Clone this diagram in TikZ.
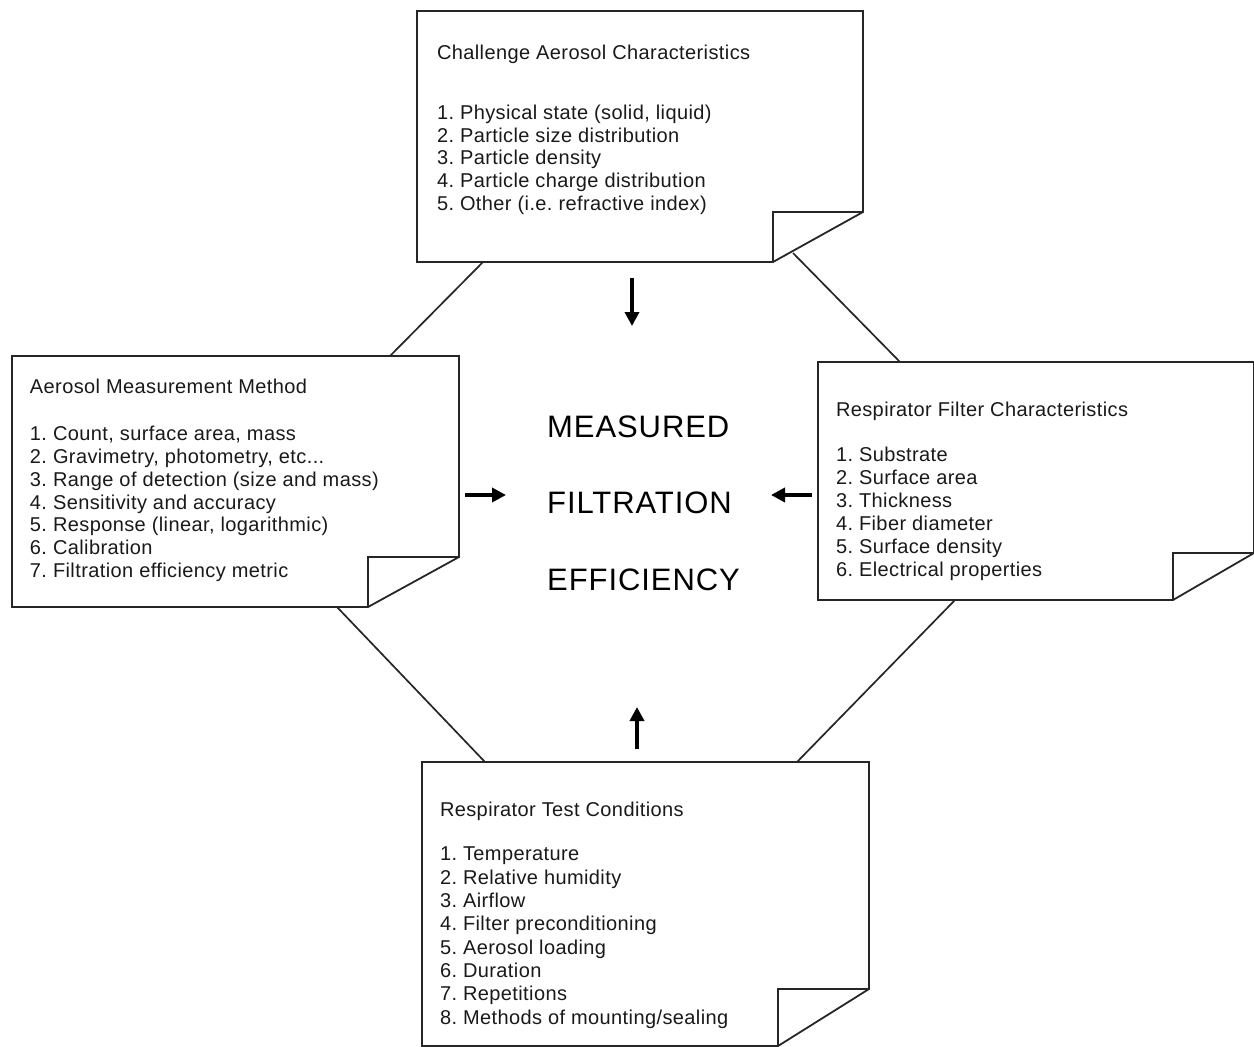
\documentclass[tikz,border=0pt]{standalone}
\usepackage{fontspec}
\setmainfont{Liberation Sans}
\newfontfamily\bodyfam[LetterSpace=2]{Liberation Sans}
\newfontfamily\bigfam[LetterSpace=3]{Liberation Sans}
\usetikzlibrary{calc,arrows.meta}
\newcommand\dogear[3]{%
  \draw[boxline] (#1.north east) -- ($(#1.south east)+(0,-#3)$) coordinate (#1f1)
     -- ($(#1.south east)+(-#2,0)$) coordinate (#1f2)
     -- (#1.south west) -- (#1.north west) -- cycle;
  \draw[boxline] (#1f2) -- (#1f2 |- #1f1) -- (#1f1);
}
\begin{document}
\frenchspacing
\begin{tikzpicture}[x=1pt,y=-1pt,
  boxline/.style={draw=black!85, line width=1.8pt, line join=miter},
  hexline/.style={draw=black!85, line width=1.7pt},
  arr/.style={draw=black, line width=3.5pt, -{Triangle[width=14pt,length=14pt]}},
  paper/.style={inner sep=0pt, outer sep=0pt},
  body/.style={inner sep=0pt, outer sep=0pt, anchor=base west, align=left, text=black!90,
    font=\bodyfam\fontsize{20}{22.9}\selectfont\frenchspacing},
  bodyb/.style={body, font=\bodyfam\fontsize{20}{23.3}\selectfont\frenchspacing},
  big/.style={inner sep=0pt, anchor=base west, align=left, text=black,
    font=\bigfam\fontsize{31}{76.5}\selectfont}]
\useasboundingbox (0,0) rectangle (1254,1047);

% boxes
\node[paper, minimum width=446pt, minimum height=251pt] (top) at (640,136.5) {};
\node[paper, minimum width=447pt, minimum height=251pt] (left) at (235.5,481.5) {};
\node[paper, minimum width=436pt, minimum height=238pt] (right) at (1036,481) {};
\node[paper, minimum width=447pt, minimum height=284pt] (bottom) at (645.5,904) {};
\dogear{top}{90}{50}
\dogear{left}{91}{50}
\dogear{right}{81}{47}
\dogear{bottom}{91}{57}

% texts (multi-line nodes: base = baseline of last line)
\node[body] (toptitle) at (437,59.3) {Challenge Aerosol Characteristics};
\node[body] (toplist) at (437,210.7) {1. Physical state (solid, liquid)\\2. Particle size distribution\\3. Particle density\\4. Particle charge distribution\\5. Other (i.e. refractive index)};

\node[body] (lefttitle) at (30,393) {Aerosol Measurement Method};
\node[body] (leftlist) at (30,577.7) {1. Count, surface area, mass\\2. Gravimetry, photometry, etc...\\3. Range of detection (size and mass)\\4. Sensitivity and accuracy\\5. Response (linear, logarithmic)\\6. Calibration\\7. Filtration efficiency metric};

\node[body] (righttitle) at (836,416.5) {Respirator Filter Characteristics};
\node[body] (rightlist) at (836,576) {1. Substrate\\2. Surface area\\3. Thickness\\4. Fiber diameter\\5. Surface density\\6. Electrical properties};

\node[body] (bottomtitle) at (440,816.5) {Respirator Test Conditions};
\node[bodyb] (bottomlist) at (440,1024) {1. Temperature\\2. Relative humidity\\3. Airflow\\4. Filter preconditioning\\5. Aerosol loading\\6. Duration\\7. Repetitions\\8. Methods of mounting/sealing};

\node[big] (center) at (547,590) {MEASURED\\FILTRATION\\EFFICIENCY};

% hexagon connectors
\coordinate (h1a) at (483,262); \coordinate (h1b) at (390,356);
\coordinate (h2a) at (793,253); \coordinate (h2b) at (900,362);
\coordinate (h3a) at (337,607); \coordinate (h3b) at (485,762);
\coordinate (h4a) at (955,600); \coordinate (h4b) at (797,762);
\draw[hexline] (h1a) -- (h1b);
\draw[hexline] (h2a) -- (h2b);
\draw[hexline] (h3a) -- (h3b);
\draw[hexline] (h4a) -- (h4b);

% arrows
\coordinate (a1s) at (632,278); \coordinate (a1e) at (632,326);
\coordinate (a2s) at (465,495); \coordinate (a2e) at (506,495);
\coordinate (a3s) at (812,495); \coordinate (a3e) at (771,495);
\coordinate (a4s) at (637,749); \coordinate (a4e) at (637,707);
\draw[arr] (a1s) -- (a1e);
\draw[arr] (a2s) -- (a2e);
\draw[arr] (a3s) -- (a3e);
\draw[arr] (a4s) -- (a4e);
\end{tikzpicture}
\end{document}
